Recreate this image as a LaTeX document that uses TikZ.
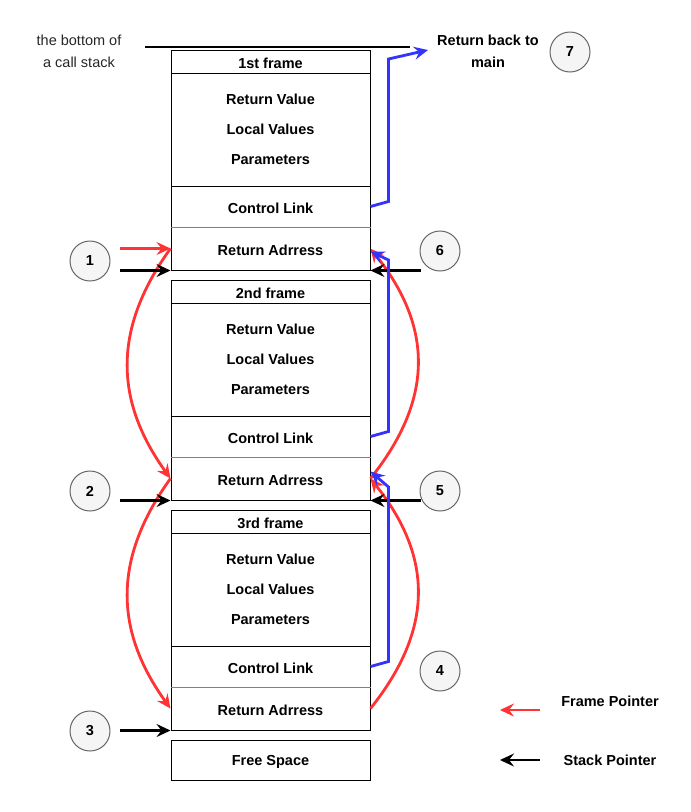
\documentclass[tikz,border=0pt]{standalone}
\usepackage{fontspec}
\setmainfont{Liberation Sans}
\usetikzlibrary{arrows.meta}
\tikzset{
  celda/.style={draw, line width=1pt, minimum width=199pt, inner sep=0pt, align=center,
    execute at begin node={\rule{0pt}{14.5pt}}, font=\bfseries\fontsize{14.5}{30}\selectfont},
  cuerpo/.style={draw, line width=1pt, minimum width=199pt, minimum height=113pt, inner sep=0pt,
    align=center, text depth=-1pt, font=\bfseries\fontsize{14.5}{30}\selectfont},
  circulo/.style={circle, draw=cgris, fill=cfondo, line width=1pt, minimum size=40pt, inner sep=0pt,
    font=\bfseries\fontsize{14.5}{17}\selectfont},
  punta/.style={-{Stealth[length=14pt,width=13pt,inset=5pt]}},
  fp/.style={punta, draw=rrojo, line width=2.8pt},
  sp/.style={punta, draw=black, line width=2.8pt},
  cl/.style={punta, draw=bblue, line width=2.8pt},
}
\begin{document}
\begin{tikzpicture}[x=1pt,y=-1pt]
        %colores
        \definecolor{rrojo}{HTML}{FF3333}
        \definecolor{bblue}{HTML}{3333FF}
        \definecolor{cgris}{HTML}{666666}
        \definecolor{cfondo}{HTML}{F5F5F5}
        \definecolor{csep}{HTML}{808080}
        \useasboundingbox (0,0) rectangle (691,812);

        % Marcos de la pila
        \foreach \i/\ord/\t in {1/1st/50,2/2nd/280,3/3rd/510}{
            \node[celda, minimum height=23pt] (hd\i) at (270.5,\t+11.5) {\ord\ frame};
            \node[cuerpo] (body\i) at (270.5,\t+79.5) {Return Value\\Local Values\\Parameters};
            \node[celda, minimum height=41pt] (cl\i) at (270.5,\t+156.5) {Control Link};
            \node[celda, minimum height=43pt] (ra\i) at (270.5,\t+198.5) {Return Adrress};
            \draw[csep, line width=1pt] (cl\i.south west) -- (cl\i.south east);
        }
        \node[celda, minimum height=40pt] (libre) at (270.5,760) {Free Space};

        % Fondo de la pila y textos
        \draw[line width=2.8pt] (145,47) -- (410,47);
        \node[align=center, font=\fontsize{14.5}{22}\selectfont, text=black!85] (fondo) at (79,51) {the bottom of\\a call stack};
        \node[align=center, font=\bfseries\fontsize{14.5}{22}\selectfont] (main) at (488,51) {Return back to\\main};
        \coordinate (amain) at (428,50);

        % Numeracion
        \foreach \n/\x/\y in {1/90/261,2/90/491,3/90/731,4/440/671,5/440/491,6/440/251,7/570/52}
            \node[circulo] (c\n) at (\x,\y) {\n};

        % Punteros de marco
        \draw[fp] ([xshift=-51pt]ra1.west) -- (ra1.west);
        \draw[fp] (ra1.west) .. controls +(-57,79) and +(-57,-79) .. (ra2.west);
        \draw[fp] (ra2.west) .. controls +(-57,79) and +(-57,-79) .. (ra3.west);
        \draw[fp] (ra3.east) .. controls +(63,-79) and +(63,79) .. (ra2.east);
        \draw[fp] (ra2.east) .. controls +(63,-79) and +(63,79) .. (ra1.east);

        % Punteros de pila
        \foreach \i in {1,2,3}
            \draw[sp] ([xshift=-51pt]ra\i.south west) -- (ra\i.south west);
        \foreach \i in {1,2}
            \draw[sp] ([xshift=50pt]ra\i.south east) -- (ra\i.south east);

        % Enlaces de control
        \draw[cl] (cl1.east) -- ++(18,-5) -- ++(0,-142.5) -- (amain);
        \draw[cl] (cl2.east) -- ++(18,-5) -- ++(0,-171.5) -- ([yshift=-3pt]ra1.east);
        \draw[cl] (cl3.east) -- ++(18,-5) -- ++(0,-174.5) -- ([yshift=7pt]ra2.east);

        % Leyenda
        \node[font=\bfseries\fontsize{14.5}{17}\selectfont] (lfp) at (610,701) {Frame Pointer};
        \node[font=\bfseries\fontsize{14.5}{17}\selectfont] (lsp) at (610,760) {Stack Pointer};
        \coordinate (fpa) at (540,710);
        \coordinate (fpb) at (500,710);
        \coordinate (spa) at (540,760);
        \coordinate (spb) at (500,760);
        \draw[fp] (fpa) -- (fpb);
        \draw[sp] (spa) -- (spb);
    \end{tikzpicture}
\end{document}
